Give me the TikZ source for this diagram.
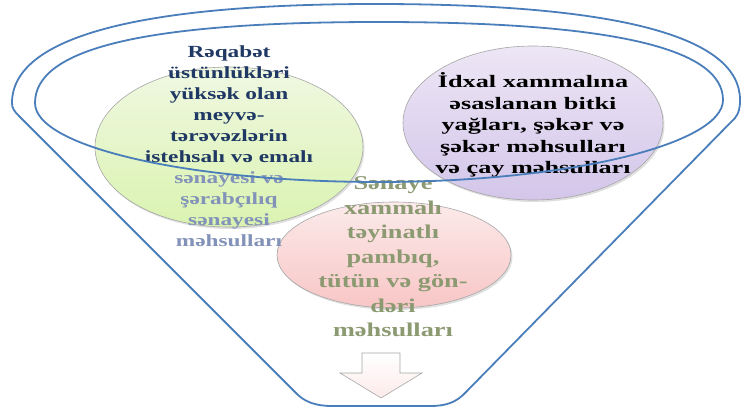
\documentclass[tikz,border=0pt]{standalone}
\usepackage{fontspec}
\newfontfamily\gfont{Liberation Serif}[FakeStretch=1.37]
\newfontfamily\pfont{Liberation Serif}[FakeStretch=1.5]
\newfontfamily\rfont{Liberation Serif}[FakeStretch=1.35]
\usetikzlibrary{shapes.geometric,shadows}
\definecolor{rim}{HTML}{4A7EBB}
\definecolor{navy}{HTML}{1F3864}
\definecolor{navylight}{HTML}{8292B8}
\definecolor{olivegrey}{HTML}{8C9A72}
\definecolor{gtop}{HTML}{F0F8E2}
\definecolor{gbot}{HTML}{DAF3B0}
\definecolor{ptop}{HTML}{EDE6F5}
\definecolor{pbot}{HTML}{D3C6EA}
\definecolor{rtop}{HTML}{FCEAEA}
\definecolor{rbot}{HTML}{F8C6C6}
\definecolor{edgegrey}{HTML}{A6A6A6}
\tikzset{
  blob/.style={ellipse, draw=edgegrey, line width=0.6pt, inner sep=0pt,
    drop shadow={opacity=0.25, shadow xshift=1.5pt, shadow yshift=-2pt}},
  label/.style={align=center, inner sep=0pt},
  rimline/.style={draw=rim, line width=1.8pt},
}
\begin{document}
\begin{tikzpicture}[x=1pt,y=-1pt]
\useasboundingbox (0,0) rectangle (741,412);
% ellipses
\node[blob, minimum width=268pt, minimum height=160pt, top color=gtop, bottom color=gbot] (g) at (229,147) {};
\node[blob, minimum width=260pt, minimum height=154pt, top color=ptop, bottom color=pbot] (p) at (533,123) {};
\node[blob, minimum width=234pt, minimum height=106pt, top color=rtop, bottom color=rbot] (r) at (394,255) {};
% texts
\node[label, text=navy, font=\gfont\bfseries\fontsize{17}{21}\selectfont] (gt) at (229,146) {%
  Rəqabət\\ üstünlükləri\\ yüksək olan\\ meyvə-\\ tərəvəzlərin\\ istehsalı və emalı\\
  \color{navylight}sənayesi və\\ \color{navylight}şərabçılıq\\ \color{navylight}sənayesi\\ \color{navylight}məhsulları};
\node[label, text=black, font=\pfont\bfseries\fontsize{17.5}{21.5}\selectfont] (pt) at (533,125) {%
  İdxal xammalına\\ əsaslanan bitki\\ yağları, şəkər və\\ şəkər məhsulları\\ və çay məhsulları};
\node[label, text=olivegrey, font=\rfont\bfseries\fontsize{19.5}{24.5}\selectfont] (rt) at (393,257) {%
  Sənaye\\ xammalı\\ təyinatlı\\ pambıq,\\ tütün və gön-\\ dəri\\ məhsulları};
% arrow
\coordinate (a1) at (362,353);
\coordinate (a2) at (400,353);
\coordinate (a3) at (400,373);
\coordinate (a4) at (422,373);
\coordinate (a5) at (381,398);
\coordinate (a6) at (340,373);
\coordinate (a7) at (362,373);
\draw[draw=edgegrey, line width=0.6pt, top color=white, bottom color=rtop]
  (a1) -- (a2) -- (a3) -- (a4) -- (a5) -- (a6) -- (a7) -- cycle;
% funnel outline
\coordinate (fl) at (12,103);
\coordinate (ft) at (376,4);
\coordinate (fr) at (740,100);
\draw[rimline] (fl) .. controls (12,38) and (135,4) .. (ft)
  .. controls (617,4) and (740,36) .. (fr)
  .. controls (740,108) and (739,113) .. (735,118)
  -- (466,392) .. controls (456,403) and (445,406) .. (430,406)
  -- (332,406) .. controls (316,406) and (305,402) .. (297,394)
  -- (19,116) .. controls (14,111) and (12,108) .. (fl);
% funnel rim
\coordinate (rl) at (35,103);
\coordinate (rt0) at (379,22);
\coordinate (rr) at (723,100);
\coordinate (rb) at (379,182);
\draw[rimline] (rl) .. controls (35,50) and (138,22) .. (rt0)
  .. controls (620,22) and (723,50) .. (rr)
  .. controls (723,144) and (569,182) .. (rb)
  .. controls (189,182) and (35,147) .. (rl);
\end{tikzpicture}
\end{document}
